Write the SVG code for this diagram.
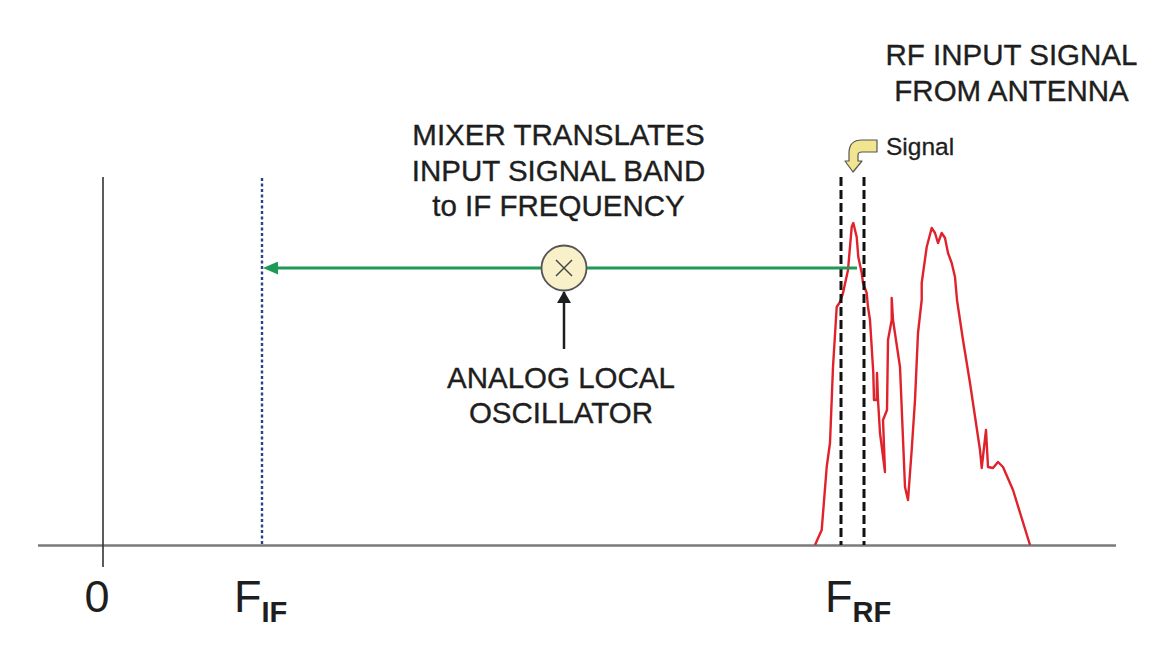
<svg xmlns="http://www.w3.org/2000/svg" width="1172" height="649" viewBox="0 0 1172 649">
  <defs>
    <style>
      .lbl { font-family: "Liberation Sans", Arial, sans-serif; fill: #1e1e1e; stroke: #1e1e1e; stroke-width: 0.35px; text-anchor: middle; }
      .big { font-size: 29.5px; }
      .axis { font-family: "Liberation Sans", Arial, sans-serif; fill: #1e1e1e; }
    </style>
    <marker id="greenHead" viewBox="0 0 15 13" refX="1" refY="6.5" markerWidth="15" markerHeight="13" markerUnits="userSpaceOnUse" orient="auto-start-reverse">
      <path d="M0,0 L15,6.5 L0,13 Z" fill="#1f9a55"/>
    </marker>
    <marker id="blackHead" viewBox="0 0 12 14" refX="11" refY="7" markerWidth="12" markerHeight="14" markerUnits="userSpaceOnUse" orient="auto">
      <path d="M0,0 L12,7 L0,14 Z" fill="#1e1e1e"/>
    </marker>
  </defs>
  <rect width="1172" height="649" fill="#ffffff"/>

  <g id="axes">
    <line x1="38" y1="545.5" x2="1116" y2="545.5" stroke="#7a7a7a" stroke-width="2.5"/>
    <line x1="103" y1="177" x2="103" y2="567" stroke="#333333" stroke-width="1.6"/>
    <line x1="262" y1="178" x2="262" y2="545" stroke="#2b3f8f" stroke-width="2.4" stroke-dasharray="3 2.5"/>
  </g>

  <g id="spectrum">
    <polyline fill="none" stroke="#e0222c" stroke-width="2.4" stroke-linejoin="round" points="815,545 821.7,530 826.7,467 830,443 833,367 836.7,307 840,302 843,293 848,270 851.7,227 853.3,223 856.7,237 858.3,257 861.7,273 863,283 866.7,293 868,307 870,320 873.3,373 874,400 876.7,400 877,373 878,400 880,433 885,472 883,420 887,410 888,340 891.7,320 891.7,298 893,320 900,367 905,487 908,500 911.7,450 915,400 918,333 921.7,300 921.7,283 926.7,247 931.7,228 935,233 938,243 941.7,233 945,238 948,253 951.7,263 955,277 957,300 963,340 970,383 980,450 981.7,468 986,430 988,467 993,468 998,462 1003,467 1013,490 1030,545"/>
  </g>

  <g id="signal-band">
    <line x1="841" y1="177" x2="841" y2="545" stroke="#111111" stroke-width="3" stroke-dasharray="9 4"/>
    <line x1="864" y1="177" x2="864" y2="545" stroke="#111111" stroke-width="3" stroke-dasharray="9 4"/>
  </g>

  <g id="signal-pointer">
    <path d="M877,140 L862,140 Q849,140 849,153 L849,161 L845,161 L853,172 L862,161 L858,161 L858,155 Q858,152 862,152 L877,152 Z" fill="#f2e590" stroke="#555555" stroke-width="1.2" stroke-linejoin="round"/>
    <text class="axis" x="886" y="155" font-size="24.5" stroke="#1e1e1e" stroke-width="0.3">Signal</text>
  </g>

  <g id="connectors">
    <line x1="857" y1="268" x2="277" y2="268" stroke="#1f9a55" stroke-width="3" marker-end="url(#greenHead)"/>
    <line x1="564" y1="349" x2="564" y2="292" stroke="#1e1e1e" stroke-width="2.5" marker-end="url(#blackHead)"/>
  </g>

  <g id="mixer">
    <circle cx="564" cy="268" r="22.5" fill="#f7f0c8" stroke="#555555" stroke-width="1.8"/>
    <line x1="556" y1="260" x2="572" y2="276" stroke="#444444" stroke-width="1.5"/>
    <line x1="572" y1="260" x2="556" y2="276" stroke="#444444" stroke-width="1.5"/>
  </g>

  <g id="label-rf">
    <text class="lbl big" x="1011.5" y="65">RF INPUT SIGNAL</text>
    <text class="lbl big" x="1011.5" y="101">FROM ANTENNA</text>
  </g>

  <g id="label-mixer">
    <text class="lbl big" x="558.5" y="145">MIXER TRANSLATES</text>
    <text class="lbl big" x="558.5" y="181">INPUT SIGNAL BAND</text>
    <text class="lbl big" x="558.5" y="216">to IF FREQUENCY</text>
  </g>

  <g id="label-lo">
    <text class="lbl big" x="561" y="388">ANALOG LOCAL</text>
    <text class="lbl big" x="561" y="423">OSCILLATOR</text>
  </g>

  <g id="tick-labels">
    <text class="axis" x="97" y="612" font-size="45" text-anchor="middle">0</text>
    <text class="axis" x="234" y="612" font-size="45">F<tspan font-size="29" font-weight="bold" dy="10">IF</tspan></text>
    <text class="axis" x="825" y="612" font-size="45">F<tspan font-size="29" font-weight="bold" dy="10">RF</tspan></text>
  </g>
</svg>
